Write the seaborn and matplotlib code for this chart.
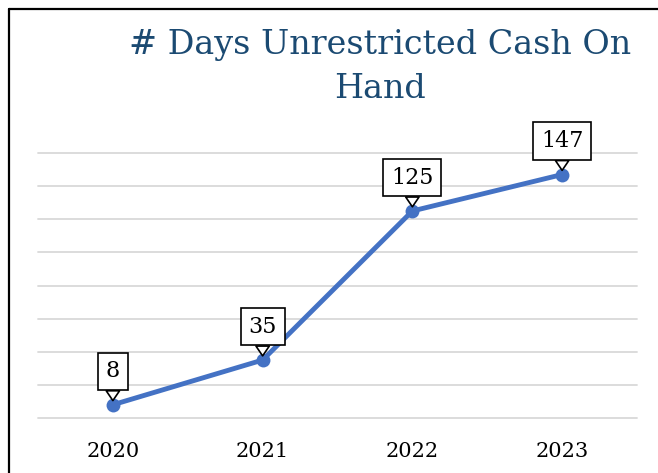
import seaborn as sns
import pandas as pd
import matplotlib
matplotlib.use("Agg")
import matplotlib.pyplot as plt
from matplotlib.lines import Line2D

years = ["2020", "2021", "2022", "2023"]
days = [8, 35, 125, 147]

df = pd.DataFrame({"Year": years, "Days": days})

sns.set_style("white")
plt.rcParams['font.family'] = ['DejaVu Serif']

fig = plt.figure(figsize=(6.58, 4.73), dpi=100)
ax = fig.add_axes([38 / 658, 1 - 418 / 473, (637 - 38) / 658, (418 - 153) / 473])

sns.lineplot(data=df, x="Year", y="Days", ax=ax, color="#4472C4", linewidth=3.5,
             marker="o", markersize=10, markeredgewidth=0, sort=False, zorder=3)

ax.set_xlim(-0.5, 3.5)
ax.set_ylim(0, 160)
ax.set_yticks(range(0, 161, 20))
ax.yaxis.grid(True, color="#D9D9D9", linewidth=1.3)
for gl in ax.yaxis.get_gridlines():
    gl.set_clip_on(False)
ax.set_axisbelow(True)
ax.tick_params(axis="y", left=False, labelleft=False)
ax.tick_params(axis="x", bottom=False, labelsize=15, pad=14, colors="black")
ax.set_xlabel("")
ax.set_ylabel("")
for s in ax.spines.values():
    s.set_visible(False)

# callout labels
for i, v in enumerate(days):
    ax.annotate(str(v), xy=(i, v), xytext=(0, 24), textcoords="offset points",
                ha="center", va="center", fontsize=16, color="black",
                bbox=dict(boxstyle="square,pad=0.35", fc="white", ec="black", lw=1.2),
                arrowprops=dict(arrowstyle="wedge,tail_width=0.6,shrink_factor=0.5",
                                fc="white", ec="black", lw=1.2,
                                shrinkA=0, shrinkB=3),
                zorder=4)

fig.text(380 / 658, 1 - 45 / 473, "# Days Unrestricted Cash On", ha="center", va="center",
         fontsize=24, color="#1B4A72")
fig.text(380 / 658, 1 - 89 / 473, "Hand", ha="center", va="center",
         fontsize=24, color="#1B4A72")

# outer frame (only top and left visible)
fig.add_artist(Line2D([9 / 658, 1], [1 - 9 / 473, 1 - 9 / 473], color="black", lw=1.6,
                      transform=fig.transFigure))
fig.add_artist(Line2D([9 / 658, 9 / 658], [0, 1 - 9 / 473], color="black", lw=1.6,
                      transform=fig.transFigure))

fig.savefig("out.png", dpi=100)
